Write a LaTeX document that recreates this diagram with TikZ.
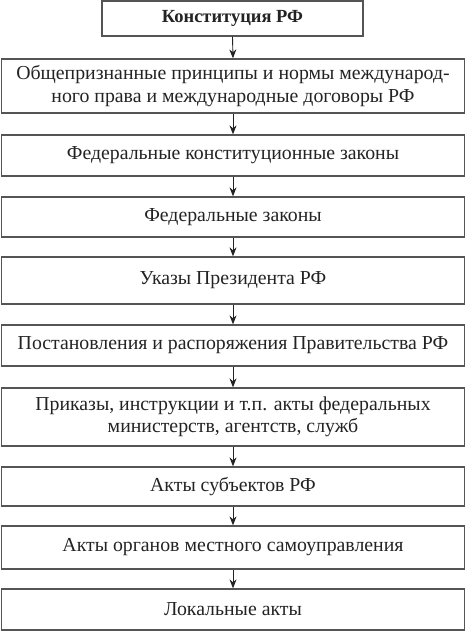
\documentclass[tikz,border=0pt]{standalone}
\usepackage{fontspec}
\setmainfont{Liberation Serif}
\usetikzlibrary{arrows.meta}
\definecolor{boxline}{RGB}{85,85,85}
\definecolor{txt}{RGB}{35,35,35}
\begin{document}
\begin{tikzpicture}[x=1pt,y=-1pt,
  lvl/.style={draw=boxline,line width=1.3pt,rectangle,inner sep=0pt,
    align=center,text=txt,font=\fontsize{19.8}{22.5}\selectfont},
  arr/.style={draw=txt,line width=0.9pt,-{Stealth[length=9pt,width=7pt]}}]
\useasboundingbox (0,0) rectangle (466,632);
\node[lvl,minimum width=261pt,minimum height=35pt,font=\fontsize{18.5}{22}\selectfont\bfseries] (b1) at (232.5,18.5) {Конституция РФ};
\node[lvl,minimum width=463pt,minimum height=54pt] (b2) at (233,86) {Общепризнанные принципы и нормы международ-\\ного права и международные договоры РФ};
\node[lvl,minimum width=463pt,minimum height=41pt] (b3) at (233,155.5) {Федеральные конституционные законы};
\node[lvl,minimum width=463pt,minimum height=40pt] (b4) at (233,217) {Федеральные законы};
\node[lvl,minimum width=463pt,minimum height=47pt] (b5) at (233,280.5) {Указы Президента РФ};
\node[lvl,minimum width=463pt,minimum height=41pt] (b6) at (233,345.5) {Постановления и распоряжения Правительства РФ};
\node[lvl,minimum width=463pt,minimum height=58pt] (b7) at (233,417) {Приказы, инструкции и т.п. акты федеральных\\министерств, агентств, служб};
\node[lvl,minimum width=463pt,minimum height=39pt] (b8) at (233,486.5) {Акты субъектов РФ};
\node[lvl,minimum width=463pt,minimum height=43pt] (b9) at (233,547.5) {Акты органов местного самоуправления};
\node[lvl,minimum width=463pt,minimum height=41pt] (b10) at (233,609.5) {Локальные акты};
\foreach \a/\b in {b1/b2,b2/b3,b3/b4,b4/b5,b5/b6,b6/b7,b7/b8,b8/b9,b9/b10}
  \draw[arr] (\a.south) -- (\b.north);
\end{tikzpicture}
\end{document}
